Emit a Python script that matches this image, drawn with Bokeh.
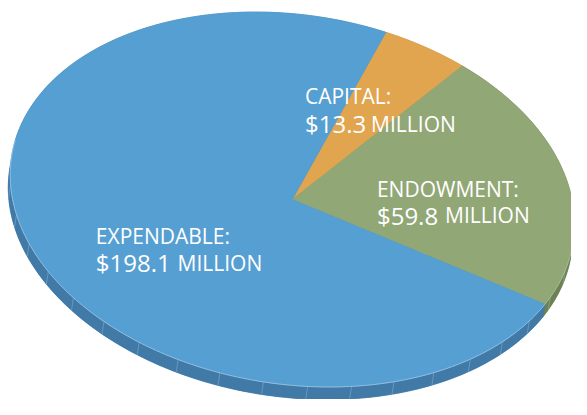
import numpy as np
from bokeh.plotting import figure
from bokeh.models import Range1d
from bokeh.embed import file_html
from bokeh.resources import INLINE
from bokeh.core.properties import value

# ---- data ----
categories = ["CAPITAL:", "ENDOWMENT:", "EXPENDABLE:"]
amounts = [13.3, 59.8, 198.1]          # $ million
value_labels = ["$13.3", "$59.8", "$198.1"]
unit_label = "MILLION"

# ---- styles ----
top_colors = ["#e1a44f", "#91a776", "#569fd2"]
side_colors = ["#b8843c", "#6d8156", "#417aa6"]
edge_colors = ["#f0c98f", "#b9c9a6", "#a9cde9"]

# geometry of the tilted pie (reference pixel space, y downward)
CX, CY = 300.0, 207.0
A, B = 292.0, 192.0
THETA = np.deg2rad(8.9)
START = np.deg2rad(-76.5)
DX, DY = -2.0, 13.0

def ell(t, dx=0.0, dy=0.0):
    x = CX + A * np.cos(t) * np.cos(THETA) - B * np.sin(t) * np.sin(THETA) + dx
    y = CY + A * np.cos(t) * np.sin(THETA) + B * np.sin(t) * np.cos(THETA) + dy
    return x, y

p = figure(width=571, height=399, output_backend="svg", toolbar_location=None,
           x_range=Range1d(0, 587), y_range=Range1d(415, 0), min_border=0)
p.axis.visible = False
p.grid.visible = False
p.outline_line_color = None
p.background_fill_color = "white"
p.border_fill_color = "white"

total = sum(amounts)
bounds = [START]
for v in amounts:
    bounds.append(bounds[-1] + 2 * np.pi * v / total)

# sides (bottom layer)
for i in range(len(amounts)):
    t = np.linspace(bounds[i], bounds[i + 1], 200)
    x1, y1 = ell(t)
    x2, y2 = ell(t, DX, DY)
    p.patch(np.concatenate([[CX + DX], x2]), np.concatenate([[CY + DY], y2]),
            fill_color=side_colors[i], line_color=side_colors[i], line_width=0.5)
    p.patch(np.concatenate([x1, x2[::-1]]), np.concatenate([y1, y2[::-1]]),
            fill_color=side_colors[i], line_color=side_colors[i], line_width=0.5)
    step = np.deg2rad(9)
    ts = np.arange(np.ceil(bounds[i] / step), np.floor(bounds[i + 1] / step) + 1) * step
    ts = ts[(np.sin(ts) > 0.15)]
    if len(ts):
        sx1, sy1 = ell(ts)
        sx2, sy2 = ell(ts, DX, DY)
        p.segment(sx1, sy1, sx2, sy2, line_color=edge_colors[i], line_alpha=0.45, line_width=0.8)

# top faces
for i in range(len(amounts)):
    t = np.linspace(bounds[i], bounds[i + 1], 300)
    x1, y1 = ell(t)
    p.patch(np.concatenate([[CX], x1]), np.concatenate([[CY], y1]),
            fill_color=top_colors[i], line_color=top_colors[i], line_width=0.6)
    front = np.sin(t) > -0.1
    if front.any():
        p.line(x1[front], y1[front], line_color=edge_colors[i], line_width=0.9, line_alpha=0.8)

# labels
label_x = [313, 387, 98]
line1_y = [99, 196, 245]
line2_y = [128, 223.5, 273]
unit_x = [381, 457, 182]

FONT = value("Open Sans")
p.text(x=label_x, y=line1_y, text=categories, text_color="white",
       text_font=FONT, text_font_size="21px", text_baseline="alphabetic")
p.text(x=label_x, y=line2_y, text=value_labels, text_color="white",
       text_font=FONT, text_font_size="24px", text_baseline="alphabetic")
p.text(x=unit_x, y=line2_y, text=[unit_label] * 3, text_color="white",
       text_font=FONT, text_font_size="21px", text_baseline="alphabetic")

open("out.html", "w").write(file_html(p, INLINE))
